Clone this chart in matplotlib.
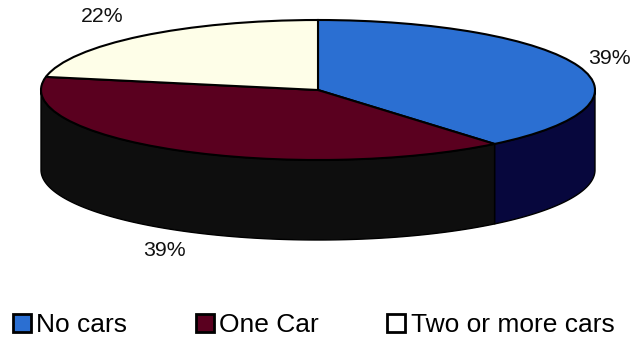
import numpy as np
import matplotlib.pyplot as plt

labels = ["No cars", "One Car", "Two or more cars"]
shares = [39, 39, 22]
top_colors = ["#2b6fd2", "#5a001f", "#fefee8"]
side_colors = ["#07073d", "#0e0e0e", "#0e0e0e"]

plt.rcParams["font.family"] = ["Liberation Sans", "DejaVu Sans"]

W, H = 630, 337
DEPTH = 80 / 70  # wall height, in units of the squashed radius

fig = plt.figure(figsize=(W / 100, H / 100), dpi=100)
# axes box runs from the top of the pie to the bottom of the wall
ax = fig.add_axes([41 / W, 1 - 240 / H, 554 / W, 220 / H])

wedges, _ = ax.pie(shares, colors=top_colors, startangle=90, counterclock=False,
                   radius=1, wedgeprops={"edgecolor": "black", "linewidth": 1.5, "zorder": 3})
ax.set_aspect("auto")
ax.set_xlim(-1, 1)
ax.set_ylim(-1 - DEPTH, 1)
ax.axis("off")

# side wall: only the front half of the rim (-180..0 deg) can be seen
ends = 90 - np.cumsum(shares) * 3.6
starts = np.r_[90, ends[:-1]]
for a0, a1, col in zip(starts, ends, side_colors):
    lo, hi = max(a1, -180), min(a0, 0)
    if lo >= hi:
        continue
    t = np.radians(np.linspace(lo, hi, 120))
    xs = np.r_[np.cos(t), np.cos(t[::-1])]
    ys = np.r_[np.sin(t), np.sin(t[::-1]) - DEPTH]
    ax.fill(xs, ys, facecolor=col, edgecolor="black", linewidth=1.0, zorder=2, clip_on=False)

# percentage labels
pct_pos = [(609, 58), (164, 250), (102, 17)]
for val, (px, py) in zip(shares, pct_pos):
    fig.text(px / W, 1 - py / H, f"{val}%", fontsize=15.3, color="#111111",
             ha="center", va="center")

leg = fig.legend(wedges, labels, ncols=3, loc="lower left", bbox_to_anchor=(13 / W, 1 - 337 / H),
                 frameon=False, fontsize=19, handlelength=0.68, handleheight=0.68,
                 handletextpad=0.2, columnspacing=2.6, borderaxespad=0, borderpad=0)
for h in leg.legend_handles:
    h.set_edgecolor("black")
    h.set_linewidth(2)
leg.legend_handles[2].set_facecolor("white")

fig.savefig("out.png", dpi=100, facecolor="white")
